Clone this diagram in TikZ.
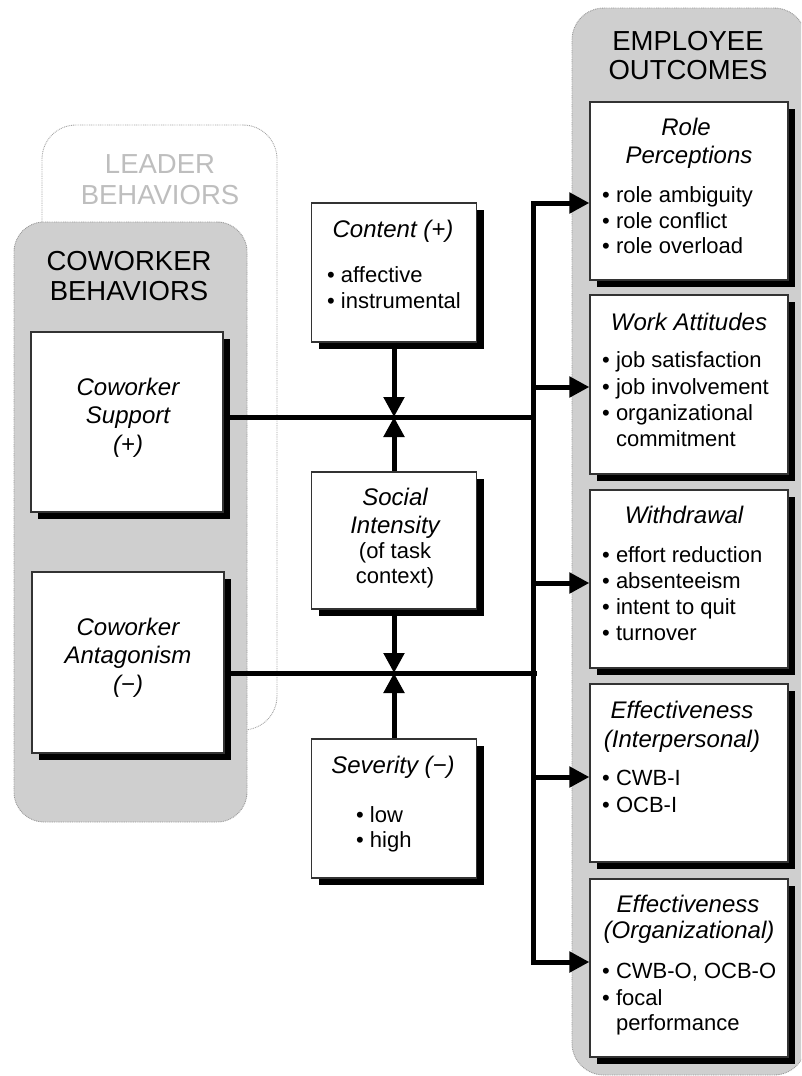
\documentclass[tikz,border=0pt]{standalone}
\usepackage{fontspec}
\setmainfont{Liberation Sans}
\usetikzlibrary{arrows.meta,shadows}
\definecolor{cgray}{RGB}{207,207,207}
\definecolor{lgray}{RGB}{190,190,190}
\definecolor{dgray}{RGB}{165,165,165}
\begin{document}
\begin{tikzpicture}[x=1pt,y=-1pt,
  container/.style={draw=gray!80, line width=0.9pt, dash pattern=on 0.9pt off 0.9pt, fill=cgray, rectangle, inner sep=0},
  sbox/.style={draw=black!80, line width=1.2pt, fill=white, rectangle, inner sep=0,
    drop shadow={opacity=1, fill=black, shadow xshift=7pt, shadow yshift=-7pt}},
  conn/.style={line width=5pt, black},
  arr/.style={conn, -{Triangle[length=20pt,width=20pt]}},
  hd/.style={font=\fontsize{27.5}{29}\selectfont, anchor=base, inner sep=0},
  ti/.style={font=\fontsize{24}{28}\selectfont\itshape, anchor=base, inner sep=0},
  tu/.style={font=\fontsize{22}{26}\selectfont, anchor=base, inner sep=0},
  it/.style={font=\fontsize{22}{26}\selectfont, anchor=base west, inner sep=0},
]
\useasboundingbox (0,0) rectangle (801,1076);
\clip (0,0) rectangle (801,1076);

% containers
\node[container, fill=white, draw=dgray, rounded corners=34pt, minimum width=235pt, minimum height=605pt] (leader) at (159.5,427.5) {};
\node[container, rounded corners=30pt, minimum width=233pt, minimum height=600pt] (cowork) at (130.5,522) {};
\node[container, rounded corners=32pt, minimum width=234pt, minimum height=1067pt] (outc) at (689,541.5) {};

% headers
\node[hd, text=lgray] (lb1) at (160,173) {LEADER};
\node[hd, text=lgray] (lb2) at (160,204) {BEHAVIORS};
\node[hd] (cb1) at (129,270) {COWORKER};
\node[hd] (cb2) at (129,300) {BEHAVIORS};
\node[hd] (eo1) at (688,50) {EMPLOYEE};
\node[hd] (eo2) at (688,79) {OUTCOMES};

% boxes
\node[sbox, minimum width=192pt, minimum height=180pt] (sup) at (127,422) {};
\node[sbox, minimum width=192pt, minimum height=181pt] (ant) at (128,662.5) {};
\node[sbox, minimum width=165pt, minimum height=139pt] (content) at (394,272.5) {};
\node[sbox, minimum width=165pt, minimum height=137pt] (social) at (394,540.5) {};
\node[sbox, minimum width=165pt, minimum height=139pt] (sev) at (394,808.5) {};
\node[sbox, minimum width=198pt, minimum height=178pt] (role) at (689,191) {};
\node[sbox, minimum width=198pt, minimum height=179pt] (work) at (689,384.5) {};
\node[sbox, minimum width=198pt, minimum height=178pt] (wd) at (689,579) {};
\node[sbox, minimum width=198pt, minimum height=178pt] (ip) at (689,773) {};
\node[sbox, minimum width=198pt, minimum height=178pt] (org) at (689,968) {};

% coworker boxes text
\node[ti] (sup1) at (128,395) {Coworker};
\node[ti] (sup2) at (128,423) {Support};
\node[ti] (sup3) at (128,452) {(+)};
\node[ti] (ant1) at (128,635) {Coworker};
\node[ti] (ant2) at (128,663) {Antagonism};
\node[ti] (ant3) at (128,692) {(−)};

% moderators text
\node[ti] (con1) at (393,237) {Content (+)};
\node[it] (con2) at (327,282) {•\ affective};
\node[it] (con3) at (327,308) {•\ instrumental};
\node[ti] (soc1) at (395,505) {Social};
\node[ti] (soc2) at (395,533) {Intensity};
\node[tu] (soc3) at (395,558) {(of task};
\node[tu] (soc4) at (395,583) {context)};
\node[ti] (sev1) at (393,773) {Severity (−)};
\node[it] (sev2) at (356,822) {•\ low};
\node[it] (sev3) at (356,847) {•\ high};

% outcome text
\node[ti] (rp1) at (686,135) {Role};
\node[ti] (rp2) at (689,163) {Perceptions};
\node[it] (rp3) at (602,202) {•\ role ambiguity};
\node[it] (rp4) at (602,228) {•\ role conflict};
\node[it] (rp5) at (602,253) {•\ role overload};

\node[ti] (wa1) at (689,330) {Work Attitudes};
\node[it] (wa2) at (602,367) {•\ job satisfaction};
\node[it] (wa3) at (602,394) {•\ job involvement};
\node[it] (wa4) at (602,420) {•\ organizational};
\node[it] (wa5) at (602,446) {\phantom{•\ }commitment};

\node[ti] (wd1) at (684,523) {Withdrawal};
\node[it] (wd2) at (602,562) {•\ effort reduction};
\node[it] (wd3) at (602,588) {•\ absenteeism};
\node[it] (wd4) at (602,614) {•\ intent to quit};
\node[it] (wd5) at (602,640) {•\ turnover};

\node[ti] (ip1) at (682,718) {Effectiveness};
\node[ti] (ip2) at (682,747) {(Interpersonal)};
\node[it] (ip3) at (602,785) {•\ CWB-I};
\node[it] (ip4) at (602,812) {•\ OCB-I};

\node[ti] (og1) at (688,912) {Effectiveness};
\node[ti] (og2) at (689,938) {(Organizational)};
\node[it] (og3) at (602,978) {•\ CWB-O, OCB-O};
\node[it] (og4) at (602,1005) {•\ focal};
\node[it] (og5) at (602,1030) {\phantom{•\ }performance};

% connector coordinates
\coordinate (t1) at (533,203);
\coordinate (t2) at (533,387);
\coordinate (t3) at (533,583);
\coordinate (t4) at (533,777);
\coordinate (t5) at (533,962);
\coordinate (j1) at (394,417);
\coordinate (j2) at (394,673);
\coordinate (s1) at (533,417);
\coordinate (s2) at (537,673);

% connectors
\draw[arr] (t3) -- (t1) -- (t1 -| role.west);
\draw[arr] (t3) -- (t5) -- (t5 -| org.west);
\draw[arr] (t2) -- (t2 -| work.west);
\draw[arr] (t3) -- (t3 -| wd.west);
\draw[arr] (t4) -- (t4 -| ip.west);
\draw[conn] (sup.east |- j1) -- (s1);
\draw[conn] (ant.east |- j2) -- (s2);
\draw[arr] (content.south) -- (j1);
\draw[arr] (social.north) -- (j1);
\draw[arr] (social.south) -- (j2);
\draw[arr] (sev.north) -- (j2);
\end{tikzpicture}
\end{document}
